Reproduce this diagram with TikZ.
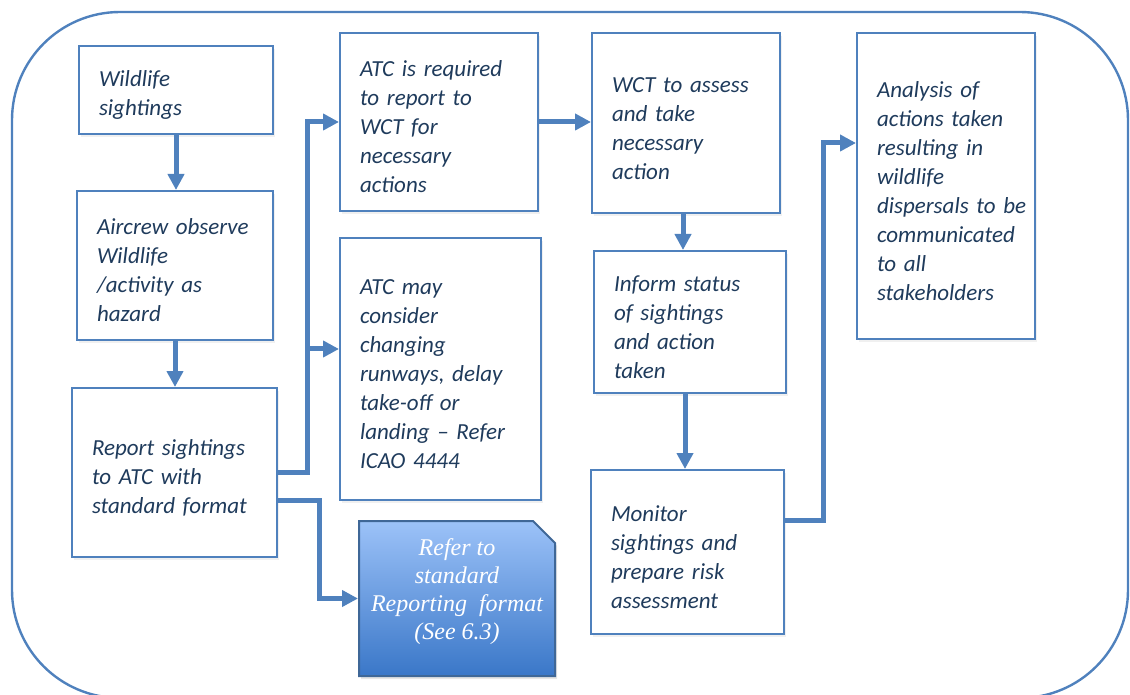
\documentclass[tikz,border=0pt]{standalone}
\usepackage{fontspec}
\setmainfont{Carlito}
\newfontfamily\reffont{Liberation Serif}
\usetikzlibrary{arrows.meta,shapes.misc,shadows}

\definecolor{boxblue}{HTML}{4F81BD}
\definecolor{txtnavy}{HTML}{1F3B5C}
\definecolor{reftop}{HTML}{9CC2F8}
\definecolor{refbottom}{HTML}{3A77C8}

\tikzset{
    flowbox/.style={draw=boxblue, line width=1pt, fill=white, inner xsep=10pt,
        align=left, text=txtnavy,
        font=\fontsize{11.5}{14.5}\selectfont\itshape,
        execute at begin node={\rule{0pt}{13pt}},
        drop shadow={opacity=0.12, shadow xshift=1pt, shadow yshift=-1.5pt}},
    refbox/.style={chamfered rectangle, chamfered rectangle corners=north east,
        chamfered rectangle xsep=5.5pt, chamfered rectangle ysep=5.5pt, inner xsep=0.5pt,
        draw=boxblue!80!black, line width=1pt, top color=reftop, bottom color=refbottom,
        align=center, text=white, font=\reffont\itshape\fontsize{12}{14}\selectfont,
        execute at end node={\rule[-9pt]{0pt}{0pt}},
        drop shadow={opacity=0.2, shadow xshift=1pt, shadow yshift=-1.5pt}},
    flowarrow/.style={draw=boxblue, line width=2.5pt, -{Triangle[length=8pt,width=8pt]}}
}

\begin{document}
\begin{tikzpicture}[x=0.5pt,y=-0.5pt]
    \useasboundingbox (0,0) rectangle (1130,695);

    %%%%%%%%% Cornice %%%%%%%%%%
    \draw[boxblue, line width=1.2pt, rounded corners=54pt] (12,12) rectangle (1128,698);

    %%%%%%%%% Caselle %%%%%%%%%%
    \node[flowbox, minimum width=97pt, minimum height=44pt, text width=77pt] (wild) at (176,90)
        {Wildlife\\ sightings};
    \node[flowbox, minimum width=98pt, minimum height=74.5pt, text width=78pt] (aircrew) at (175,265.5)
        {Aircrew~observe\\ Wildlife\\ /activity as\\ hazard};
    \node[flowbox, minimum width=102.5pt, minimum height=84.5pt, text width=82.5pt] (report) at (174.5,472.5)
        {Report sightings\\ to ATC with\\ standard format};

    \node[flowbox, minimum width=99pt, minimum height=89pt, text width=79pt] (atcreq) at (439,122)
        {ATC is required\\ to report to\\ WCT for\\ necessary\\ actions};
    \node[flowbox, minimum width=100.5pt, minimum height=131pt, text width=80.5pt] (atcmay) at (440.5,369)
        {ATC may\\ consider\\ changing\\ runways, delay\\ take-off or\\ landing -- Refer\\ ICAO 4444};
    \node[refbox, minimum width=89pt, minimum height=77.5pt] (refer) at (457,598.5)
        {Refer to\\ standard\\ Reporting\ \ format\\ (See 6.3)};

    \node[flowbox, minimum width=94pt, minimum height=90pt, text width=74pt] (wct) at (686,123)
        {WCT to assess\\ and take\\ necessary\\ action};
    \node[flowbox, minimum width=96pt, minimum height=71pt, text width=76pt] (inform) at (690,322)
        {Inform status\\ of sightings\\ and action\\ taken};
    \node[flowbox, minimum width=96.5pt, minimum height=82pt, text width=76.5pt] (monitor) at (687.5,552)
        {Monitor\\ sightings and\\ prepare risk\\ assessment};

    \node[flowbox, minimum width=89pt, minimum height=153pt, text width=69pt] (analysis) at (946,186)
        {Analysis of\\ actions taken\\ resulting in\\ wildlife\\ dispersals~to~be\\ communicated\\ to all\\ stakeholders};

    %%%%%%%%% Frecce %%%%%%%%%%
    \draw[flowarrow] (wild.south) -- (wild.south |- aircrew.north);
    \draw[flowarrow] (aircrew.south) -- (aircrew.south |- report.north);
    \draw[flowarrow] (report.east) -- ++(14.5pt,0) coordinate (fork) |- (atcreq.west);
    \path ([yshift=10pt]atcmay.west) coordinate (mayin);
    \draw[flowarrow] (fork |- mayin) -- (mayin);
    \draw[flowarrow] ([yshift=-13.75pt]report.east) -- ++(20.5pt,0) |- (refer.west);
    \draw[flowarrow] (atcreq.east) -- (atcreq.east -| wct.west);
    \draw[flowarrow] ([xshift=-1.5pt]wct.south) coordinate (wctout) -- (wctout |- inform.north);
    \draw[flowarrow] ([xshift=-2.5pt]inform.south) coordinate (infout) -- (infout |- monitor.north);
    \draw[flowarrow] ([yshift=16pt]monitor.east) -- ++(19pt,0) |- ([yshift=21.5pt]analysis.west);
\end{tikzpicture}
\end{document}
